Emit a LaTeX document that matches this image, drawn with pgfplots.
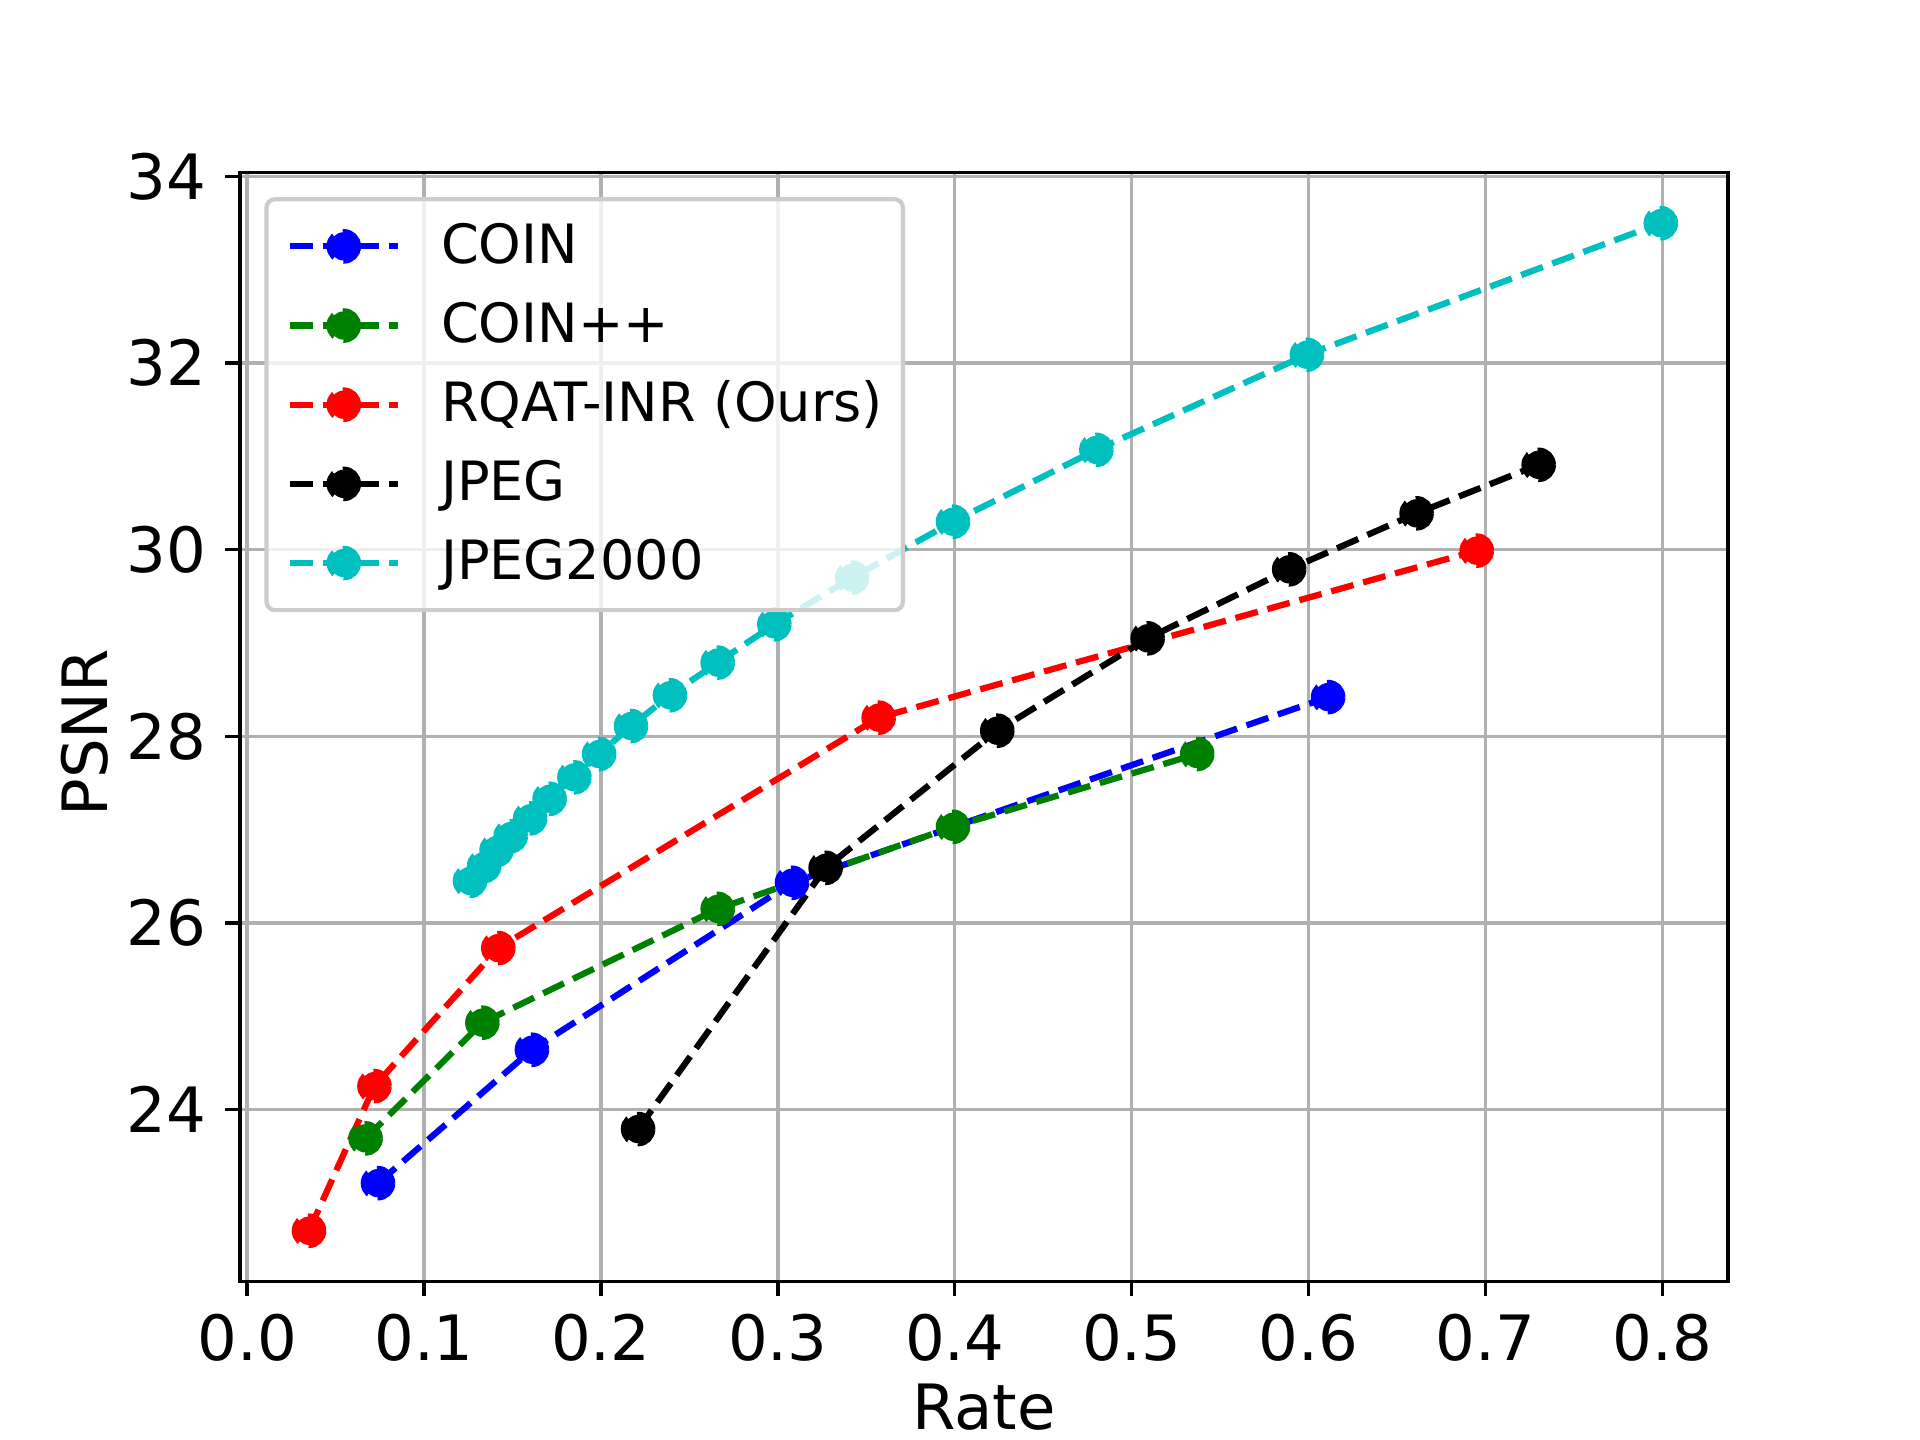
\documentclass[border=0pt]{standalone}
\usepackage{pgfplots}
\pgfplotsset{compat=1.18}
\usepackage{fontspec}
\setmainfont{DejaVu Sans}
\definecolor{mplb}{rgb}{0,0,1}
\definecolor{mplg}{rgb}{0,0.5,0}
\definecolor{mplr}{rgb}{1,0,0}
\definecolor{mplk}{rgb}{0,0,0}
\definecolor{mplc}{rgb}{0,0.75,0.75}
\definecolor{gridgray}{rgb}{0.690,0.690,0.690}
\definecolor{legedge}{rgb}{0.8,0.8,0.8}
\begin{document}
\begin{tikzpicture}
\useasboundingbox (0,0) rectangle (460.8pt,345.6pt);
\begin{axis}[
  at={(57.6pt,38.016pt)}, anchor=south west,
  scale only axis, width=357.12pt, height=266.11pt,
  xmin=-0.004, xmax=0.837, ymin=22.155, ymax=34.04,
  xtick={0,0.1,0.2,0.3,0.4,0.5,0.6,0.7,0.8},
  ytick={24,26,28,30,32,34},
  xticklabel style={/pgf/number format/fixed, /pgf/number format/fixed zerofill, /pgf/number format/precision=1, yshift=-4pt},
  /pgf/number format/assume math mode=true,
  tick pos=left, tick align=outside, major tick length=3.5pt,
  every tick/.style={black, line width=0.8pt},
  axis line style={line width=0.8pt},
  grid=major, major grid style={gridgray, line width=0.8pt},
  ticklabel style={font=\fontsize{15}{18}\selectfont, inner sep=0pt},
  yticklabel style={xshift=-4.5pt},
  label style={font=\fontsize{15}{18}\selectfont, inner sep=0pt},
  xlabel={Rate}, ylabel={PSNR},
  xlabel style={at={(axis description cs:0.5,-0.1330)}, anchor=base},
  ylabel style={at={(axis description cs:-0.0890,0.495)}, anchor=base},
  every axis plot/.append style={line width=1.5pt, dash pattern=on 5.55pt off 2.4pt, mark=*, mark size=3.4pt, mark options={solid, line width=0.2pt}},
  legend cell align=left,
  legend image code/.code={\draw[mark repeat=2, mark phase=2, opacity=1] plot coordinates {(0pt,0pt) (13pt,0pt) (26pt,0pt)};},
  legend style={at={(axis description cs:0.0164,0.978)}, anchor=north west,
    draw=legedge, line width=1pt, rounded corners=2pt, fill=white, fill opacity=0.8, text opacity=1,
    inner xsep=4.8pt, inner ysep=4.3pt, row sep=5pt, column sep=9.6pt,
    font=\fontsize{13}{15.6}\selectfont,
    nodes={inner sep=0pt, text height=11pt, text depth=3pt}},
]
\addplot[mplb, mark options={fill=mplb, draw=mplb}] coordinates {(0.074,23.21) (0.161,24.64) (0.308,26.43) (0.611,28.42)};
\addlegendentry{COIN}
\addplot[mplg, mark options={fill=mplg, draw=mplg}] coordinates {(0.067,23.69) (0.133,24.93) (0.266,26.15) (0.399,27.03) (0.537,27.81)};
\addlegendentry{COIN++}
\addplot[mplr, mark options={fill=mplr, draw=mplr}] coordinates {(0.035,22.70) (0.072,24.25) (0.142,25.73) (0.357,28.20) (0.695,29.99)};
\addlegendentry{RQAT-INR (Ours)}
\addplot[mplk, mark options={fill=mplk, draw=mplk}] coordinates {(0.221,23.79) (0.327,26.59) (0.424,28.06) (0.509,29.05) (0.589,29.79) (0.661,30.39) (0.730,30.91)};
\addlegendentry{JPEG}
\addplot[mplc, mark options={fill=mplc, draw=mplc}] coordinates {(0.126,26.45) (0.134,26.61) (0.141,26.78) (0.149,26.93) (0.160,27.12) (0.171,27.33) (0.185,27.56) (0.199,27.81) (0.217,28.11) (0.239,28.44) (0.266,28.79) (0.298,29.20) (0.342,29.70) (0.399,30.30) (0.480,31.07) (0.599,32.09) (0.799,33.50)};
\addlegendentry{JPEG2000}
\end{axis}
\end{tikzpicture}
\end{document}
